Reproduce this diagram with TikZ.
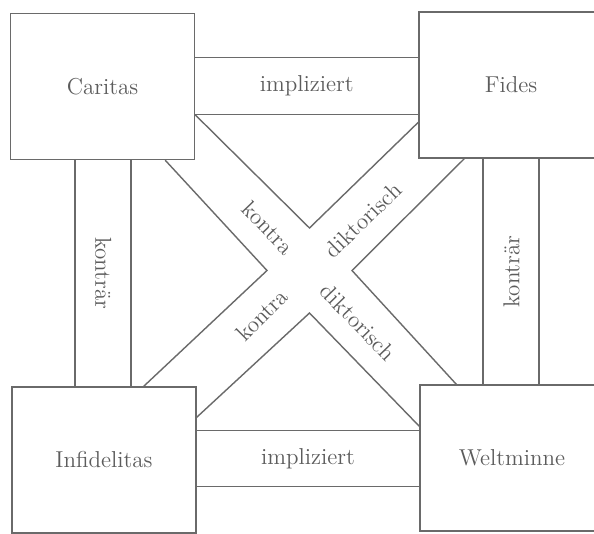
\documentclass[tikz,border=0pt]{standalone}
\usetikzlibrary{calc}
\definecolor{linec}{HTML}{6A6A6A}
\definecolor{textc}{HTML}{5C5C5C}
\begin{document}
\begin{tikzpicture}[x=0.5pt,y=-0.5pt,
  box/.style={draw=linec,line width=0.7pt,minimum width=92pt,minimum height=73pt,inner sep=0pt,
    text=textc,font=\fontsize{11.5}{13}\selectfont},
  lbl/.style={text=textc,inner sep=0pt,font=\fontsize{11.5}{13}\selectfont},
  band/.style={draw=linec,line width=0.7pt,line join=miter}]
\useasboundingbox (0,0) rectangle (594,534);
\clip (0,0) rectangle (594,534);
\fill[white] (0,0) rectangle (594,534);
% boxes
\node[box] (car) at (102.5,86.5) {Caritas};
\node[box] (fid) at (511,85) {Fides};
\node[box] (inf) at (104,460) {Infidelitas};
\node[box] (wel) at (512,458) {Weltminne};
% implication bands
\coordinate (i1a) at ($(car.north east)+(0,45)$);
\coordinate (i1b) at ($(car.north east)+(0,102)$);
\draw[band] (i1a) -- (i1a -| fid.west);
\draw[band] (i1b) -- (i1b -| fid.west);
\coordinate (i2a) at ($(wel.north west)+(0,46)$);
\coordinate (i2b) at ($(wel.north west)+(0,102)$);
\draw[band] (i2a -| inf.east) -- (i2a);
\draw[band] (i2b -| inf.east) -- (i2b);
\node[lbl] at ($(car.east)!0.5!(fid.west)$) {impliziert};
\node[lbl] at ($(inf.east)!0.5!(wel.west)$) {impliziert};
% contrary bands
\coordinate (k1a) at ($(car.south)+(-27.5,0)$);
\coordinate (k1b) at ($(car.south)+(28.5,0)$);
\draw[band] (k1a) -- (k1a |- inf.north);
\draw[band] (k1b) -- (k1b |- inf.north);
\coordinate (k2a) at ($(fid.south)+(-28,0)$);
\coordinate (k2b) at ($(fid.south)+(28,0)$);
\draw[band] (k2a) -- (k2a |- wel.north);
\draw[band] (k2b) -- (k2b |- wel.north);
\node[lbl,rotate=-90] at ($(car.south)!0.5!(inf.north)$) {konträr};
\node[lbl,rotate=90] at ($(fid.south)!0.5!(wel.north)$) {konträr};
% contradictory X
\coordinate (cx) at (309.5,270.5);
\coordinate (nt) at ($(cx)+(0,-42.5)$);
\coordinate (nb) at ($(cx)+(0,42.5)$);
\coordinate (nl) at ($(cx)+(-42.5,0)$);
\coordinate (nr) at ($(cx)+(42.5,0)$);
\draw[band] ($(car.north east)+(0,102)$) -- (nt) -- ($(fid.north west)+(0,111)$);
\draw[band] ($(car.south east)+(-30,0)$) -- (nl) -- ($(inf.north east)+(-53,0)$);
\draw[band] ($(fid.south west)+(46,0)$) -- (nr) -- ($(wel.north west)+(37,0)$);
\draw[band] ($(inf.north east)+(0,31)$) -- (nb) -- ($(wel.north west)+(0,42)$);
\node[lbl,rotate=-46] at (268,228) {kontra};
\node[lbl,rotate=-46] at (358,322) {diktorisch};
\node[lbl,rotate=45] at (262,315) {kontra};
\node[lbl,rotate=44] at (363,220) {diktorisch};
\end{tikzpicture}
\end{document}
